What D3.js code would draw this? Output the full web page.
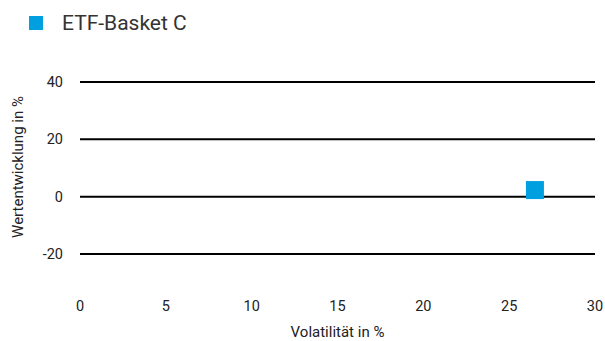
<!DOCTYPE html>
<html>
<head>
<meta charset="utf-8">
<script src="https://cdn.jsdelivr.net/npm/d3@7"></script>
<style>
  body { margin: 0; background: #fff; }
  svg text { font-family: Roboto, "Noto Sans", sans-serif; fill: #222; }
</style>
</head>
<body>
<svg id="chart"></svg>
<script>
// data
const seriesNames = ['ETF-Basket C'];
const volatility = [26.5];
const performance = [2.3];
const xTicks = [0, 5, 10, 15, 20, 25, 30];
const yTicks = [-20, 0, 20, 40];
const colors = ['#009fdf'];

const width = 605, height = 341;
const svg = d3.select('#chart').attr('width', width).attr('height', height);

const x = d3.scaleLinear().domain([0, 30]).range([80, 595]);
const y = d3.scaleLinear().domain([-20, 40]).range([254, 82]);

// gridlines
svg.append('g').selectAll('line')
    .data(yTicks)
    .enter()
    .append('line')
    .attr('x1', x(0))
    .attr('x2', x(30))
    .attr('y1', d => y(d))
    .attr('y2', d => y(d))
    .attr('stroke', '#000')
    .attr('stroke-width', 2);

// y tick labels
svg.append('g').selectAll('text')
    .data(yTicks)
    .enter()
    .append('text')
    .attr('x', 63)
    .attr('y', d => y(d))
    .attr('dy', '0.35em')
    .attr('text-anchor', 'end')
    .style('font-size', '14.5px')
    .text(d => d);

// x tick labels
svg.append('g').selectAll('text')
    .data(xTicks)
    .enter()
    .append('text')
    .attr('x', d => x(d))
    .attr('y', 306)
    .attr('dy', '0.35em')
    .attr('text-anchor', 'middle')
    .style('font-size', '14.5px')
    .text(d => d);

// axis titles
svg.append('text')
    .attr('x', x(15))
    .attr('y', 332)
    .attr('dy', '0.35em')
    .attr('text-anchor', 'middle')
    .style('font-size', '15px')
    .text('Volatilität in %');

svg.append('text')
    .attr('transform', 'translate(18,167) rotate(-90)')
    .attr('dy', '0.35em')
    .attr('text-anchor', 'middle')
    .style('font-size', '15px')
    .text('Wertentwicklung in %');

// points
const size = 18;
svg.append('g').selectAll('rect')
    .data(volatility.map((v, i) => ({ x: v, y: performance[i], c: colors[i] })))
    .enter()
    .append('rect')
    .attr('x', d => x(d.x) - size / 2)
    .attr('y', d => y(d.y) - size / 2)
    .attr('width', size)
    .attr('height', size)
    .attr('fill', d => d.c);

// legend
const legend = svg.append('g').selectAll('g')
    .data(seriesNames)
    .enter()
    .append('g');

legend.append('rect')
    .attr('x', 29)
    .attr('y', 16)
    .attr('width', 14)
    .attr('height', 14)
    .attr('fill', (d, i) => colors[i]);

legend.append('text')
    .attr('x', 62)
    .attr('y', 23)
    .attr('dy', '0.35em')
    .style('font-size', '21px')
    .style('fill', '#333')
    .text(d => d);
</script>
</body>
</html>
